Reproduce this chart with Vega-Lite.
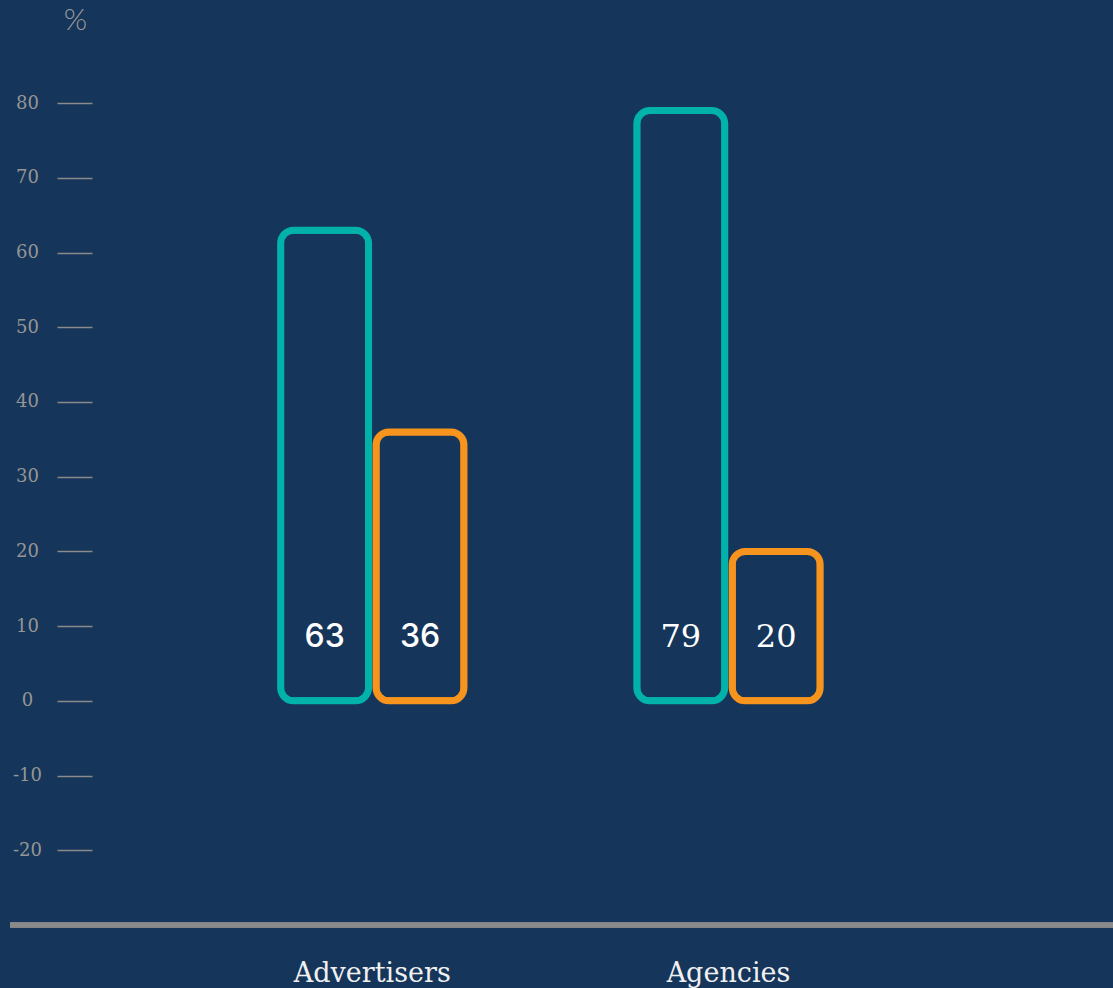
{
  "$schema": "https://vega.github.io/schema/vega-lite/v6.json",
  "autosize": "none",
  "width": 1103,
  "height": 919,
  "padding": {"left": 10, "top": 6, "right": 0, "bottom": 63},
  "background": "#15355a",
  "config": {"view": {"stroke": null}},
  "data": {
    "values": [
      {"group": "Advertisers", "series": "A", "value": 63},
      {"group": "Advertisers", "series": "B", "value": 36},
      {"group": "Agencies", "series": "A", "value": 79},
      {"group": "Agencies", "series": "B", "value": 20}
    ]
  },
  "layer": [
    {
      "mark": {"type": "bar", "fill": "#15355a", "strokeWidth": 7, "cornerRadius": 13},
      "encoding": {
        "x": {
          "field": "group",
          "type": "nominal",
          "sort": null,
          "scale": {"range": [184.2, 896.6], "paddingInner": 0, "paddingOuter": 0},
          "axis": {
            "title": null,
            "orient": "bottom",
            "domain": false,
            "ticks": false,
            "tickSize": 0,
            "labelAngle": 0,
            "labelPadding": 48,
            "labelBaseline": "middle",
            "labelFont": "DejaVu Serif",
            "labelFontSize": 27,
            "labelColor": "#f0f0f0"
          }
        },
        "xOffset": {
          "field": "series",
          "type": "nominal",
          "scale": {"paddingInner": 0.0785, "paddingOuter": 0.906}
        },
        "y": {
          "field": "value",
          "type": "quantitative",
          "scale": {"domain": [-30, 93], "nice": false, "zero": false},
          "axis": {
            "values": [-20, -10, 0, 10, 20, 30, 40, 50, 60, 70, 80],
            "labelExpr": "datum.value < 0 ? '-' + abs(datum.value) : '' + datum.value",
            "grid": false,
            "domain": false,
            "offset": -82,
            "tickSize": 35,
            "tickColor": "#8a8a8a",
            "tickWidth": 1.5,
            "labelAlign": "center",
            "labelBaseline": "middle",
            "labelPadding": 30,
            "labelFont": "DejaVu Serif",
            "labelFontSize": 18,
            "labelColor": "#959595",
            "title": "%",
            "titleAngle": 0,
            "titleX": -17,
            "titleY": 14,
            "titleAlign": "center",
            "titleBaseline": "middle",
            "titleFont": "Lato",
            "titleFontWeight": 300,
            "titleFontSize": 30,
            "titleColor": "#9a9a9a"
          }
        },
        "stroke": {
          "field": "series",
          "type": "nominal",
          "scale": {"range": ["#00b2a9", "#f7941d"]},
          "legend": null
        }
      }
    },
    {
      "mark": {"type": "rule", "color": "#8a8a8a", "strokeWidth": 5},
      "encoding": {
        "y": {"datum": -30, "type": "quantitative"}
      }
    },
    {
      "transform": [{"filter": "datum.group === 'Advertisers'"}],
      "mark": {"type": "text", "font": "Inter", "fontSize": 32, "fontWeight": 500, "color": "#ffffff", "baseline": "middle", "dy": -64},
      "encoding": {
        "x": {"field": "group", "type": "nominal", "sort": null},
        "xOffset": {"field": "series", "type": "nominal"},
        "y": {"datum": 0, "type": "quantitative"},
        "text": {"field": "value", "type": "quantitative"}
      }
    },
    {
      "transform": [{"filter": "datum.group === 'Agencies'"}],
      "mark": {"type": "text", "font": "DejaVu Serif", "fontSize": 32, "color": "#ffffff", "baseline": "middle", "dy": -64},
      "encoding": {
        "x": {"field": "group", "type": "nominal", "sort": null},
        "xOffset": {"field": "series", "type": "nominal"},
        "y": {"datum": 0, "type": "quantitative"},
        "text": {"field": "value", "type": "quantitative"}
      }
    }
  ]
}
